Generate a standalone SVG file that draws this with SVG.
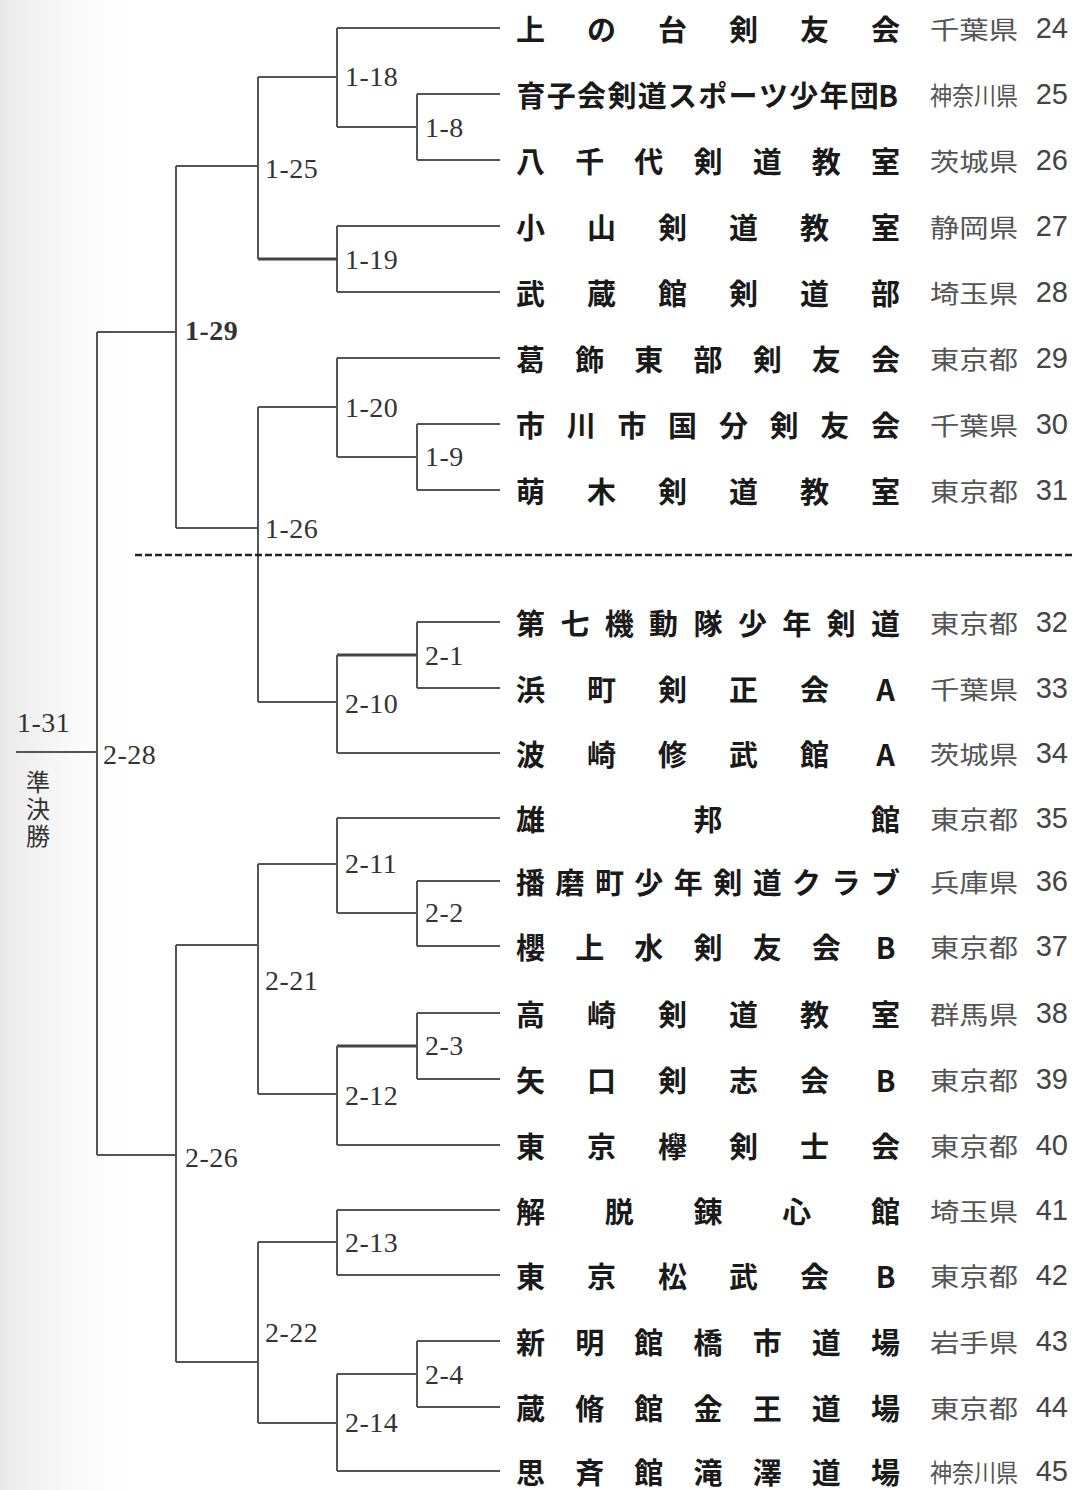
<svg xmlns="http://www.w3.org/2000/svg" width="1075" height="1490" viewBox="0 0 1075 1490">
<defs>
<linearGradient id="shade" x1="0" y1="0" x2="1" y2="0">
<stop offset="0" stop-color="#e9e9e9"/>
<stop offset="1" stop-color="#ffffff" stop-opacity="0"/>
</linearGradient>
<style>
.ln{fill:none;stroke:#555;stroke-width:2}
.thk{stroke-width:3;stroke:#444}
.dash{fill:none;stroke:#222;stroke-width:2.5;stroke-dasharray:7 3}
.lbl{font-family:"Liberation Serif","Noto Serif",serif;font-size:28px;letter-spacing:0.5px;fill:#333;dominant-baseline:central}
.nm{font-family:"Noto Sans CJK JP","Noto Sans",sans-serif;font-size:29px;font-weight:700;fill:#1a1a1a;text-anchor:middle;dominant-baseline:central}
.pf{font-family:"Noto Sans CJK JP","Noto Sans",sans-serif;font-size:25px;fill:#555;dominant-baseline:central}
.no{font-family:"Liberation Sans Narrow","Liberation Sans",sans-serif;font-size:29px;fill:#444;text-anchor:end;dominant-baseline:central}
.vt{font-family:"Noto Sans CJK JP","Noto Sans",sans-serif;font-size:24px;fill:#333;writing-mode:vertical-rl;letter-spacing:3px}
</style>
</defs>
<rect width="1075" height="1490" fill="#fff"/>
<rect x="0" y="0" width="150" height="1490" fill="url(#shade)"/>

<g id="connectors">
<path class="ln" d="M337 28H500 M417 94H500 M417 160H500 M337 226H500 M337 292H500 M337 358H500 M417 424H500 M417 490H500 M417 622H500 M417 688H500 M337 753H500 M337 818H500 M417 881H500 M417 946H500 M417 1013H500 M417 1079H500 M337 1145H500 M337 1210H500 M337 1275H500 M417 1341H500 M417 1407H500 M337 1471H500"/>
<path class="ln" d="M417 94V160 M337 127H417"/>
<path class="ln" d="M337 28V127 M258 77H337"/>
<path class="ln" d="M337 226V292"/>
<path class="ln thk" d="M258 259H337"/>
<path class="ln" d="M258 77V259 M176 166H258"/>
<path class="ln" d="M417 424V490 M337 457H417"/>
<path class="ln" d="M337 358V457 M258 407H337"/>
<path class="ln" d="M417 622V688"/>
<path class="ln thk" d="M337 655H417"/>
<path class="ln" d="M337 655V753 M258 702H337"/>
<path class="ln" d="M258 407V702 M176 528H258"/>
<path class="ln" d="M176 166V528 M97 332H176"/>
<path class="ln" d="M417 881V946 M337 913H417"/>
<path class="ln" d="M337 818V913 M258 864H337"/>
<path class="ln" d="M417 1013V1079"/>
<path class="ln thk" d="M337 1046H417"/>
<path class="ln" d="M337 1046V1145 M258 1094H337"/>
<path class="ln" d="M258 864V1094 M176 945H258"/>
<path class="ln" d="M337 1210V1275 M258 1242H337"/>
<path class="ln" d="M417 1341V1407 M337 1374H417"/>
<path class="ln" d="M337 1374V1471 M258 1423H337"/>
<path class="ln" d="M258 1242V1423 M176 1362H258"/>
<path class="ln" d="M176 945V1362 M97 1155H176"/>
<path class="ln" d="M97 332V1155 M16 752H97"/>
<line class="dash" x1="135" y1="555" x2="1075" y2="555"/>
</g>

<g id="matches">
<g id="m-1-18"><text class="lbl" x="345" y="76">1-18</text></g>
<g id="m-1-8"><text class="lbl" x="425" y="127">1-8</text></g>
<g id="m-1-25"><text class="lbl" x="265" y="168">1-25</text></g>
<g id="m-1-19"><text class="lbl" x="345" y="259">1-19</text></g>
<g id="m-1-29"><text class="lbl" x="185" y="330" font-weight="700">1-29</text></g>
<g id="m-1-20"><text class="lbl" x="345" y="407">1-20</text></g>
<g id="m-1-9"><text class="lbl" x="425" y="456">1-9</text></g>
<g id="m-1-26"><text class="lbl" x="265" y="528">1-26</text></g>
<g id="m-2-1"><text class="lbl" x="425" y="655">2-1</text></g>
<g id="m-2-10"><text class="lbl" x="345" y="703">2-10</text></g>
<g id="m-1-31"><text class="lbl" x="17" y="722">1-31</text></g>
<g id="m-2-28"><text class="lbl" x="103" y="754">2-28</text></g>
<g id="semifinal"><text class="vt" x="38" y="770">準決勝</text></g>
<g id="m-2-11"><text class="lbl" x="345" y="863">2-11</text></g>
<g id="m-2-2"><text class="lbl" x="425" y="912">2-2</text></g>
<g id="m-2-21"><text class="lbl" x="265" y="980">2-21</text></g>
<g id="m-2-3"><text class="lbl" x="425" y="1045">2-3</text></g>
<g id="m-2-12"><text class="lbl" x="345" y="1095">2-12</text></g>
<g id="m-2-26"><text class="lbl" x="185" y="1157">2-26</text></g>
<g id="m-2-13"><text class="lbl" x="345" y="1242">2-13</text></g>
<g id="m-2-22"><text class="lbl" x="265" y="1332">2-22</text></g>
<g id="m-2-4"><text class="lbl" x="425" y="1374">2-4</text></g>
<g id="m-2-14"><text class="lbl" x="345" y="1422">2-14</text></g>
</g>

<g id="teams">
<g id="team-24"><text class="nm" x="530.5 601.5 672.5 743.5 814.5 885.5" y="28">上の台剣友会</text><text class="pf" x="930" y="28" textLength="88" lengthAdjust="spacingAndGlyphs">千葉県</text><text class="no" x="1068" y="28">24</text></g>
<g id="team-25"><text class="nm" x="531 561.3 591.6 621.9 652.2 682.5 712.8 743.1 773.4 803.7 834 864.3 888" y="94">育子会剣道スポーツ少年団B</text><text class="pf" x="930" y="94" textLength="88" lengthAdjust="spacingAndGlyphs">神奈川県</text><text class="no" x="1068" y="94">25</text></g>
<g id="team-26"><text class="nm" x="530.5 589.7 648.8 708 767.2 826.3 885.5" y="160">八千代剣道教室</text><text class="pf" x="930" y="160" textLength="88" lengthAdjust="spacingAndGlyphs">茨城県</text><text class="no" x="1068" y="160">26</text></g>
<g id="team-27"><text class="nm" x="530.5 601.5 672.5 743.5 814.5 885.5" y="226">小山剣道教室</text><text class="pf" x="930" y="226" textLength="88" lengthAdjust="spacingAndGlyphs">静岡県</text><text class="no" x="1068" y="226">27</text></g>
<g id="team-28"><text class="nm" x="530.5 601.5 672.5 743.5 814.5 885.5" y="292">武蔵館剣道部</text><text class="pf" x="930" y="292" textLength="88" lengthAdjust="spacingAndGlyphs">埼玉県</text><text class="no" x="1068" y="292">28</text></g>
<g id="team-29"><text class="nm" x="530.5 589.7 648.8 708 767.2 826.3 885.5" y="358">葛飾東部剣友会</text><text class="pf" x="930" y="358" textLength="88" lengthAdjust="spacingAndGlyphs">東京都</text><text class="no" x="1068" y="358">29</text></g>
<g id="team-30"><text class="nm" x="530.5 581.2 631.9 682.6 733.4 784.1 834.8 885.5" y="424">市川市国分剣友会</text><text class="pf" x="930" y="424" textLength="88" lengthAdjust="spacingAndGlyphs">千葉県</text><text class="no" x="1068" y="424">30</text></g>
<g id="team-31"><text class="nm" x="530.5 601.5 672.5 743.5 814.5 885.5" y="490">萌木剣道教室</text><text class="pf" x="930" y="490" textLength="88" lengthAdjust="spacingAndGlyphs">東京都</text><text class="no" x="1068" y="490">31</text></g>
<g id="team-32"><text class="nm" x="530.5 574.9 619.3 663.6 708 752.4 796.8 841.1 885.5" y="622">第七機動隊少年剣道</text><text class="pf" x="930" y="622" textLength="88" lengthAdjust="spacingAndGlyphs">東京都</text><text class="no" x="1068" y="622">32</text></g>
<g id="team-33"><text class="nm" x="530.5 601.5 672.5 743.5 814.5 885.5" y="688">浜町剣正会A</text><text class="pf" x="930" y="688" textLength="88" lengthAdjust="spacingAndGlyphs">千葉県</text><text class="no" x="1068" y="688">33</text></g>
<g id="team-34"><text class="nm" x="530.5 601.5 672.5 743.5 814.5 885.5" y="753">波崎修武館A</text><text class="pf" x="930" y="753" textLength="88" lengthAdjust="spacingAndGlyphs">茨城県</text><text class="no" x="1068" y="753">34</text></g>
<g id="team-35"><text class="nm" x="530.5 708 885.5" y="818">雄邦館</text><text class="pf" x="930" y="818" textLength="88" lengthAdjust="spacingAndGlyphs">東京都</text><text class="no" x="1068" y="818">35</text></g>
<g id="team-36"><text class="nm" x="530.5 569.9 609.4 648.8 688.3 727.7 767.2 806.6 846.1 885.5" y="881">播磨町少年剣道クラブ</text><text class="pf" x="930" y="881" textLength="88" lengthAdjust="spacingAndGlyphs">兵庫県</text><text class="no" x="1068" y="881">36</text></g>
<g id="team-37"><text class="nm" x="530.5 589.7 648.8 708 767.2 826.3 885.5" y="946">櫻上水剣友会B</text><text class="pf" x="930" y="946" textLength="88" lengthAdjust="spacingAndGlyphs">東京都</text><text class="no" x="1068" y="946">37</text></g>
<g id="team-38"><text class="nm" x="530.5 601.5 672.5 743.5 814.5 885.5" y="1013">高崎剣道教室</text><text class="pf" x="930" y="1013" textLength="88" lengthAdjust="spacingAndGlyphs">群馬県</text><text class="no" x="1068" y="1013">38</text></g>
<g id="team-39"><text class="nm" x="530.5 601.5 672.5 743.5 814.5 885.5" y="1079">矢口剣志会B</text><text class="pf" x="930" y="1079" textLength="88" lengthAdjust="spacingAndGlyphs">東京都</text><text class="no" x="1068" y="1079">39</text></g>
<g id="team-40"><text class="nm" x="530.5 601.5 672.5 743.5 814.5 885.5" y="1145">東京欅剣士会</text><text class="pf" x="930" y="1145" textLength="88" lengthAdjust="spacingAndGlyphs">東京都</text><text class="no" x="1068" y="1145">40</text></g>
<g id="team-41"><text class="nm" x="530.5 619.3 708 796.8 885.5" y="1210">解脱錬心館</text><text class="pf" x="930" y="1210" textLength="88" lengthAdjust="spacingAndGlyphs">埼玉県</text><text class="no" x="1068" y="1210">41</text></g>
<g id="team-42"><text class="nm" x="530.5 601.5 672.5 743.5 814.5 885.5" y="1275">東京松武会B</text><text class="pf" x="930" y="1275" textLength="88" lengthAdjust="spacingAndGlyphs">東京都</text><text class="no" x="1068" y="1275">42</text></g>
<g id="team-43"><text class="nm" x="530.5 589.7 648.8 708 767.2 826.3 885.5" y="1341">新明館橋市道場</text><text class="pf" x="930" y="1341" textLength="88" lengthAdjust="spacingAndGlyphs">岩手県</text><text class="no" x="1068" y="1341">43</text></g>
<g id="team-44"><text class="nm" x="530.5 589.7 648.8 708 767.2 826.3 885.5" y="1407">蔵脩館金王道場</text><text class="pf" x="930" y="1407" textLength="88" lengthAdjust="spacingAndGlyphs">東京都</text><text class="no" x="1068" y="1407">44</text></g>
<g id="team-45"><text class="nm" x="530.5 589.7 648.8 708 767.2 826.3 885.5" y="1471">思斉館滝澤道場</text><text class="pf" x="930" y="1471" textLength="88" lengthAdjust="spacingAndGlyphs">神奈川県</text><text class="no" x="1068" y="1471">45</text></g>
</g>
</svg>
